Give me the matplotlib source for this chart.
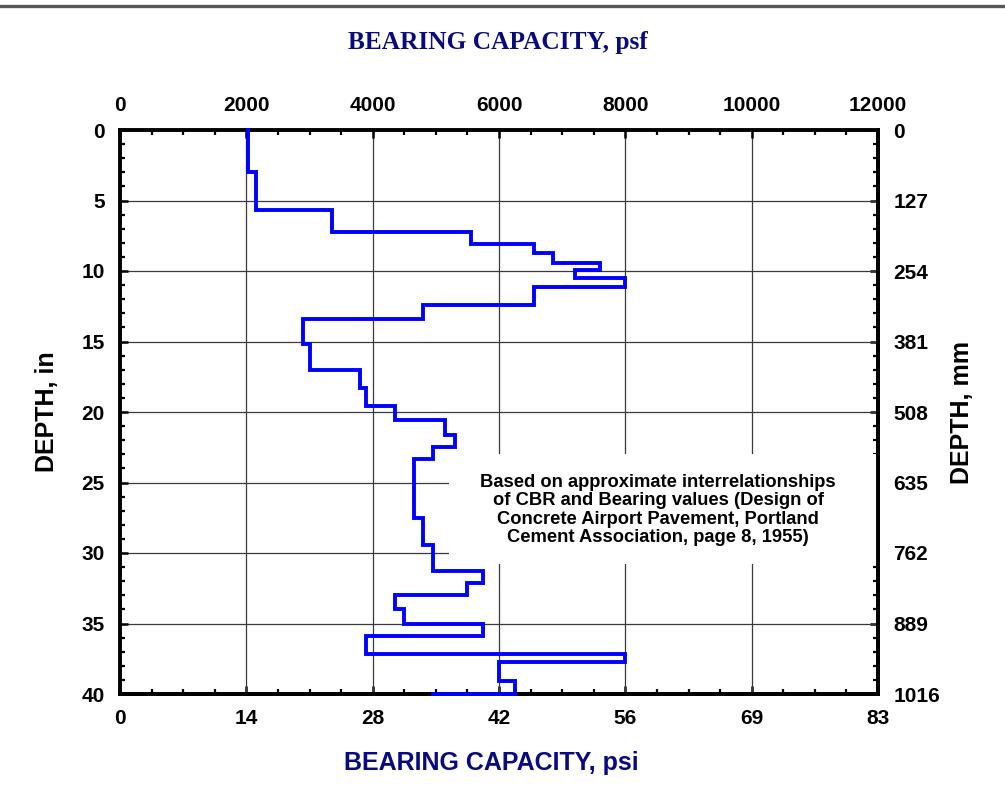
import numpy as np
import matplotlib
matplotlib.use("Agg")
import matplotlib.pyplot as plt
from matplotlib.ticker import MultipleLocator, FixedLocator, FormatStrFormatter
from matplotlib.patches import Rectangle
from matplotlib.lines import Line2D

# layer tops (in) and bearing capacity (psf) of each layer
depth_top = [0, 3.0, 5.7, 7.2, 8.1, 8.75, 9.4, 9.95, 10.5, 11.1, 12.4, 13.4,
             15.2, 17.0, 18.3, 19.6, 20.6, 21.6, 22.5, 23.3, 27.5, 29.45,
             31.3, 32.1, 33.0, 34.0, 35.0, 35.9, 37.15, 37.7, 39.1]
bearing_psf = [2020, 2150, 3350, 5550, 6550, 6850, 7600, 7200, 8000, 6550,
               4800, 2900, 3000, 3800, 3900, 4350, 5150, 5300, 4950, 4650,
               4800, 4950, 5750, 5500, 4350, 4500, 5750, 3900, 8000, 6000, 6250]
depth_end = 40.0
bearing_end = 4950

psf_ticks = [0, 2000, 4000, 6000, 8000, 10000, 12000]
depth_ticks = [0, 5, 10, 15, 20, 25, 30, 35, 40]
PSF_PER_PSI = 144.0
MM_PER_IN = 25.4

note = ("Based on approximate interrelationships\n"
        "of CBR and Bearing values (Design of\n"
        "Concrete Airport Pavement, Portland\n"
        "Cement Association, page 8, 1955)")

navy = "#0a0a80"
blue = "#0000ff"

plt.rcParams["font.family"] = ["Liberation Sans", "DejaVu Sans"]
plt.rcParams["font.weight"] = "bold"

fig = plt.figure(figsize=(10.05, 7.97), dpi=100)
ax = fig.add_axes([120 / 1005, 1 - 694 / 797, 758 / 1005, 564 / 797])

# build step profile
d_bot = depth_top[1:] + [depth_end]
xs, ys = [], []
for top, bot, v in zip(depth_top, d_bot, bearing_psf):
    xs += [v, v]
    ys += [top, bot]
xs.append(bearing_end)
ys.append(depth_end)
ax.plot(xs, ys, color=blue, lw=2.8, zorder=3, solid_joinstyle="miter",
        clip_on=False)

ax.set_xlim(psf_ticks[0], psf_ticks[-1])
ax.set_ylim(depth_ticks[-1], depth_ticks[0])

ax.set_axisbelow(True)
ax.grid(True, which="major", color="#3a3a3a", lw=0.9)

# white panel behind the note
ax.add_patch(Rectangle((0.434, 0.2305), 0.566, 0.195, transform=ax.transAxes,
                       facecolor="white", edgecolor="none", zorder=1.5))
ax.text(0.71, 0.326, note, transform=ax.transAxes, ha="center", va="center",
        fontsize=13.2, fontweight="bold", linespacing=1.12, zorder=4)

tick_kw = dict(labelsize=15, pad=11)

# main axes: psf on top, depth (in) on left
ax.xaxis.set_ticks_position("top")
ax.xaxis.set_major_locator(FixedLocator(psf_ticks))
ax.xaxis.set_minor_locator(MultipleLocator(500))
ax.yaxis.set_major_locator(FixedLocator(depth_ticks))
ax.yaxis.set_minor_locator(MultipleLocator(1))
ax.tick_params(axis="both", which="major", direction="in", length=5.5,
               width=1.8, **tick_kw)
ax.tick_params(axis="both", which="minor", direction="in", length=3.5, width=1.6)
ax.tick_params(axis="x", top=True, bottom=False, labeltop=True, labelbottom=False)
ax.tick_params(axis="y", left=True, right=False)
ax.tick_params(axis="x", which="minor", top=True, bottom=False)
ax.tick_params(axis="y", which="minor", left=True, right=False)
for s in ax.spines.values():
    s.set_linewidth(2.8)

# psi on bottom
axb = ax.secondary_xaxis("bottom", functions=(lambda x: x / PSF_PER_PSI,
                                              lambda x: x * PSF_PER_PSI))
axb.xaxis.set_major_locator(FixedLocator(np.array(psf_ticks) / PSF_PER_PSI))
axb.xaxis.set_major_formatter(FormatStrFormatter("%.0f"))
axb.xaxis.set_minor_locator(FixedLocator(np.arange(0, 12001, 500) / PSF_PER_PSI))
axb.tick_params(which="major", direction="in", length=5.5, width=1.8, **tick_kw)
axb.tick_params(which="minor", direction="in", length=3.5, width=1.6)
axb.spines["bottom"].set_linewidth(2.8)

# mm on right
axr = ax.secondary_yaxis("right", functions=(lambda d: d * MM_PER_IN,
                                             lambda d: d / MM_PER_IN))
axr.yaxis.set_major_locator(FixedLocator(np.array(depth_ticks) * MM_PER_IN))
axr.yaxis.set_major_formatter(FormatStrFormatter("%.0f"))
axr.yaxis.set_minor_locator(MultipleLocator(MM_PER_IN))
axr.tick_params(which="major", direction="in", length=5.5, width=1.8, **tick_kw)
axr.tick_params(which="minor", direction="in", length=3.5, width=1.6)
axr.spines["right"].set_linewidth(2.8)

for lab in (ax.get_xticklabels() + ax.get_yticklabels() +
            axb.get_xticklabels() + axr.get_yticklabels()):
    lab.set_fontweight("bold")

# axis titles
fig.text(498 / 1005, 1 - 42 / 797, "BEARING CAPACITY, psf", ha="center",
         va="center", fontsize=18.3, fontweight="bold", color=navy,
         family=["Liberation Serif", "DejaVu Serif"])
fig.text(491 / 1005, 1 - 763 / 797, "BEARING CAPACITY, psi", ha="center",
         va="center", fontsize=18, fontweight="bold", color=navy)
fig.text(47 / 1005, 1 - 412 / 797, "DEPTH, in", ha="center", va="center",
         rotation=90, fontsize=18, fontweight="bold")
fig.text(962 / 1005, 1 - 412 / 797, "DEPTH, mm", ha="center", va="center",
         rotation=90, fontsize=18, fontweight="bold")

# grey rule at top of page
fig.add_artist(Line2D([0, 1], [1 - 5.5 / 797, 1 - 5.5 / 797],
                      transform=fig.transFigure, color="#555555", lw=2.4))

fig.savefig("out.png", dpi=100)
